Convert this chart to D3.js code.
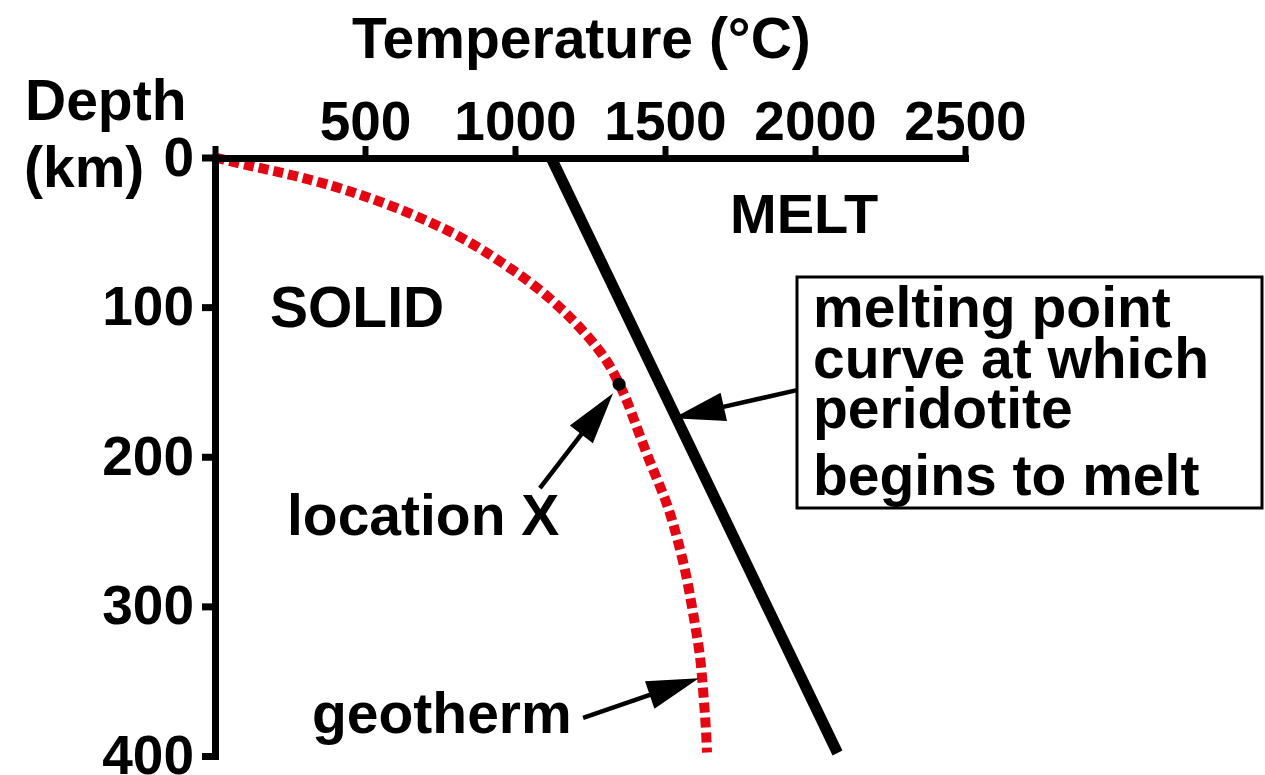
<!DOCTYPE html>
<html>
<head>
<meta charset="utf-8">
<script src="https://cdn.jsdelivr.net/npm/d3@7"></script>
<style>
  html, body { margin: 0; padding: 0; background: #ffffff; }
  svg { display: block; }
  text { font-family: "Liberation Sans", Arial, Helvetica, sans-serif; font-weight: bold; fill: #000; }
</style>
</head>
<body>
<div id="chart"></div>
<script>
// ---- data ----
const xTicks = [0, 500, 1000, 1500, 2000, 2500];          // Temperature (°C)
const yTicks = [0, 100, 200, 300, 400];                    // Depth (km)

// geotherm (red dashed curve): temperature vs depth
const geothermTemp  = [0, 117, 260, 407, 507, 607, 717, 807, 893, 983, 1073, 1160, 1240, 1307, 1347, 1373, 1417, 1460, 1507, 1540, 1573, 1593, 1617, 1627, 1637, 1640];
const geothermDepth = [0, 5.7, 11.7, 19.7, 26.4, 33.7, 43.1, 51.8, 61.8, 73.8, 86.5, 101.8, 118.5, 135.2, 151.2, 161.9, 186.6, 208.7, 230.7, 253.4, 280.1, 304.2, 331, 355.6, 382.3, 397.7];

// melting point curve of peridotite (straight line)
const meltTemp  = [1120, 2075];
const meltDepth = [0, 398];

// location X on the geotherm
const locationX = { temp: 1347, depth: 151.5 };

// labels
const titleText = "Temperature (°C)";
const depthLabel = ["Depth", "(km)"];
const boxLines = ["melting point", "curve at which", "peridotite", "begins to melt"];

// ---- chart ----
const W = 1265, H = 775;
const svg = d3.select("#chart").append("svg").attr("width", W).attr("height", H);
svg.append("rect").attr("width", W).attr("height", H).attr("fill", "#fff");

const x = d3.scaleLinear().domain([0, 2500]).range([215, 965]);
const y = d3.scaleLinear().domain([0, 400]).range([157.5, 756]);

const RED = "#e30613";

// melting point line
const meltData = meltTemp.map((t, i) => ({ t, d: meltDepth[i] }));
svg.append("path")
  .datum(meltData)
  .attr("d", d3.line().x(d => x(d.t)).y(d => y(d.d)))
  .attr("fill", "none").attr("stroke", "#000").attr("stroke-width", 11);

// geotherm
const geoData = geothermTemp.map((t, i) => ({ t, d: geothermDepth[i] }));
svg.append("path")
  .datum(geoData)
  .attr("d", d3.line().x(d => x(d.t)).y(d => y(d.d)).curve(d3.curveBasis))
  .attr("fill", "none").attr("stroke", RED).attr("stroke-width", 10)
  .attr("stroke-dasharray", "10,5");

// axes
const gx = svg.append("g").attr("transform", "translate(0,158)")
  .call(d3.axisTop(x).tickValues(xTicks).tickSize(12).tickSizeOuter(0)
    .tickFormat(d => d === 0 ? "" : d));
gx.select(".domain").attr("stroke", "#000").attr("stroke-width", 7).attr("stroke-linecap", "square");
gx.selectAll(".tick line").attr("stroke", "#000").attr("stroke-width", 6);
gx.selectAll(".tick text").attr("y", -18).attr("dy", 0)
  .style("font-size", "55px").style("font-family", "'Liberation Sans', Arial, sans-serif")
  .style("font-weight", "bold").attr("fill", "#000");

const gy = svg.append("g").attr("transform", "translate(215,0)")
  .call(d3.axisLeft(y).tickValues(yTicks).tickSize(13).tickSizeOuter(0));
gy.select(".domain").attr("stroke", "#000").attr("stroke-width", 7).attr("stroke-linecap", "square");
gy.selectAll(".tick line").attr("stroke", "#000").attr("stroke-width", 7);
gy.selectAll(".tick text").attr("x", -21).attr("dy", "0.32em")
  .style("font-size", "55px").style("font-family", "'Liberation Sans', Arial, sans-serif")
  .style("font-weight", "bold").attr("fill", "#000");

// titles
svg.append("text").attr("x", 352).attr("y", 58).style("font-size", "57px").text(titleText);
svg.append("text").attr("x", 25).attr("y", 120).style("font-size", "57px").text(depthLabel[0]);
svg.append("text").attr("x", 24).attr("y", 187).style("font-size", "57px").text(depthLabel[1]);

// region labels
svg.append("text").attr("x", 270).attr("y", 327).style("font-size", "57px").text("SOLID");
svg.append("text").attr("x", 730).attr("y", 233).style("font-size", "56px").text("MELT");
svg.append("text").attr("x", 287).attr("y", 535).style("font-size", "57px").text("location X");
svg.append("text").attr("x", 312).attr("y", 733).style("font-size", "57px").text("geotherm");

// location X dot
svg.append("circle").attr("cx", x(locationX.temp)).attr("cy", y(locationX.depth))
  .attr("r", 6.5).attr("fill", "#000");

// box
svg.append("rect").attr("x", 797).attr("y", 277).attr("width", 465).attr("height", 231)
  .attr("fill", "#fff").attr("stroke", "#000").attr("stroke-width", 3);
const boxBase = [327, 378, 428, 495];
boxLines.forEach((s, i) => {
  svg.append("text").attr("x", 813).attr("y", boxBase[i]).style("font-size", "57px").text(s);
});

// arrows (tip/tail in data units)
function arrow(tail, tip) {
  const x1 = x(tail[0]), y1 = y(tail[1]), x2 = x(tip[0]), y2 = y(tip[1]);
  const dx = x2 - x1, dy = y2 - y1, L = Math.hypot(dx, dy);
  const ux = dx / L, uy = dy / L, px = -uy, py = ux;
  const hl = 52, hw = 14.5;
  const bx = x2 - ux * hl, by = y2 - uy * hl;
  svg.append("line").attr("x1", x1).attr("y1", y1).attr("x2", bx + ux * 4).attr("y2", by + uy * 4)
    .attr("stroke", "#000").attr("stroke-width", 4.5);
  svg.append("path")
    .attr("d", `M${x2},${y2}L${bx + px * hw},${by + py * hw}L${bx - px * hw},${by - py * hw}Z`)
    .attr("fill", "#000");
}
arrow([1083, 221], [1327, 157.5]);   // location X
arrow([1940, 155.5], [1527, 174.3]); // melting point curve
arrow([1227, 374.5], [1613, 348]);   // geotherm
</script>
</body>
</html>
